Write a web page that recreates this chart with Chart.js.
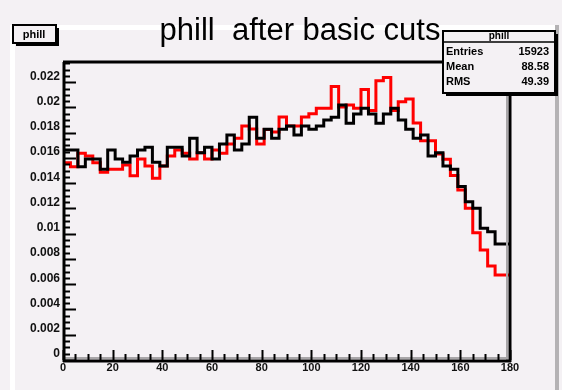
<!DOCTYPE html>
<html>
<head>
<meta charset="utf-8">
<script src="https://cdn.jsdelivr.net/npm/chart.js@4.4.1/dist/chart.umd.min.js"></script>
<style>
    html, body { margin: 0; padding: 0; background: #f4f1f4; }
    #wrap { width: 562px; height: 390px; }
</style>
</head>
<body>
<div id="wrap"><canvas id="chart" width="562" height="390"></canvas></div>
<script>
// phill histogram, 60 bins from 0 to 180
var xMin = 0;
var xMax = 180;
var nBins = 60;

var blackCounts = [
    0.01663, 0.01663, 0.01531, 0.01592, 0.01592, 0.01511, 0.01663, 0.01592, 0.01566, 0.01616,
    0.01663, 0.01685, 0.01566, 0.01537, 0.01685, 0.01685, 0.01616, 0.01756, 0.01642, 0.01685,
    0.01592, 0.01711, 0.01782, 0.01663, 0.01711, 0.01922, 0.01756, 0.01827, 0.01756, 0.01827,
    0.01853, 0.01782, 0.01853, 0.01827, 0.01853, 0.01901, 0.01922, 0.02020, 0.01875, 0.01949,
    0.01994, 0.01949, 0.01875, 0.01949, 0.01994, 0.01901, 0.01827, 0.01756, 0.01782, 0.01616,
    0.01642, 0.01537, 0.01511, 0.01374, 0.01254, 0.01202, 0.01043, 0.01016, 0.00919, 0.00919
];

var redCounts = [
    0.01563, 0.01531, 0.01637, 0.01616, 0.01563, 0.01487, 0.01511, 0.01511, 0.01545, 0.01460,
    0.01592, 0.01537, 0.01439, 0.01537, 0.01616, 0.01663, 0.01637, 0.01592, 0.01642, 0.01592,
    0.01663, 0.01637, 0.01711, 0.01756, 0.01853, 0.01830, 0.01711, 0.01826, 0.01806, 0.01925,
    0.01853, 0.01853, 0.01925, 0.01951, 0.01994, 0.01994, 0.02165, 0.02004, 0.02020, 0.01994,
    0.02143, 0.01975, 0.02212, 0.02238, 0.01975, 0.02046, 0.02067, 0.01877, 0.01737, 0.01737,
    0.01632, 0.01590, 0.01461, 0.01347, 0.01202, 0.01008, 0.00871, 0.00745, 0.00673, 0.00673
];

var yMax = 0.0236;
var yTickValues = [0, 0.002, 0.004, 0.006, 0.008, 0.01, 0.012, 0.014, 0.016, 0.018, 0.02, 0.022];
var yTickLabels = ['0', '0.002', '0.004', '0.006', '0.008', '0.01', '0.012', '0.014', '0.016', '0.018', '0.02', '0.022'];
var xTickValues = [0, 20, 40, 60, 80, 100, 120, 140, 160, 180];
var xTickLabels = ['0', '20', '40', '60', '80', '100', '120', '140', '160', '180'];

var histTitle = 'phill  after basic cuts';
var statsName = 'phill';
var statsRows = [['Entries', '15923'], ['Mean', '88.58'], ['RMS', '49.39']];

var BG = '#f4f1f4';

function histPoints(counts) {
    var w = (xMax - xMin) / nBins;
    var pts = counts.map(function(v, i) { return { x: xMin + i * w, y: v }; });
    pts.push({ x: xMax, y: counts[counts.length - 1] });
    return pts;
}

function line(ctx, x1, y1, x2, y2, color, width) {
    ctx.strokeStyle = color;
    ctx.lineWidth = width;
    ctx.beginPath();
    ctx.moveTo(x1, y1);
    ctx.lineTo(x2, y2);
    ctx.stroke();
}

function shadowBox(ctx, x, y, w, h) {
    ctx.fillStyle = '#000';
    ctx.fillRect(x + 3, y + 3, w, h);
    ctx.fillStyle = BG;
    ctx.fillRect(x, y, w, h);
    ctx.strokeStyle = '#000';
    ctx.lineWidth = 2;
    ctx.strokeRect(x, y, w, h);
}

var rootStyle = {
    id: 'rootStyle',
    beforeDraw: function(chart) {
        var ctx = chart.ctx;
        ctx.save();
        ctx.fillStyle = BG;
        ctx.fillRect(0, 0, chart.width, chart.height);
        // pad border highlight / shadow
        ctx.fillStyle = '#ffffff';
        ctx.fillRect(10, 25, 5, 365);
        ctx.fillRect(10, 25, 545, 5);
        ctx.fillStyle = '#b4b2b4';
        ctx.fillRect(555, 25, 4, 365);

        // title
        ctx.fillStyle = '#000';
        ctx.font = '31px "Liberation Sans", Arial, sans-serif';
        ctx.textAlign = 'center';
        ctx.textBaseline = 'alphabetic';
        ctx.fillText(histTitle, 300, 40);

        // name box at top left
        shadowBox(ctx, 13, 25, 43, 18);
        ctx.fillStyle = '#000';
        ctx.font = 'bold 11px "Liberation Sans", Arial, sans-serif';
        ctx.fillText(statsName, 34, 38);
        ctx.restore();
    },
    afterDatasetsDraw: function(chart) {
        var ctx = chart.ctx;
        var a = chart.chartArea;
        var xs = chart.scales.x;
        var ys = chart.scales.y;
        var k, px, py, major;
        ctx.save();

        // frame
        line(ctx, a.left, a.top, a.right + 1, a.top, '#000', 3);
        line(ctx, a.right - 3, a.top, a.right - 3, a.bottom, '#a8a6a8', 2);
        line(ctx, a.right, a.top, a.right, a.bottom + 2, '#000', 3);
        line(ctx, a.left, a.bottom - 2, a.right - 3, a.bottom - 2, '#a8a6a8', 2);
        line(ctx, a.left, a.bottom + 1, a.right + 1, a.bottom + 1, '#000', 3);
        line(ctx, a.left + 1, a.top, a.left + 1, a.bottom + 2, '#000', 3);

        // y ticks, 4 subdivisions per 0.002
        for (k = 0; k * 0.0005 <= yMax; k++) {
            py = Math.round(ys.getPixelForValue(k * 0.0005)) + 0.5;
            major = (k % 4 === 0);
            line(ctx, a.left, py, a.left + (major ? 13 : 7), py, '#000', 2);
        }
        // x ticks, 4 subdivisions per 20
        for (k = 0; k * 5 <= xMax; k++) {
            px = Math.round(xs.getPixelForValue(k * 5)) + 0.5;
            major = (k % 4 === 0);
            line(ctx, px, a.bottom, px, a.bottom - (major ? 10 : 6), '#000', 2);
        }

        ctx.fillStyle = '#111';
        ctx.font = 'bold 12px "Liberation Sans", Arial, sans-serif';
        ctx.textAlign = 'right';
        ctx.textBaseline = 'middle';
        yTickValues.forEach(function(v, i) {
            ctx.fillText(yTickLabels[i], a.left - 3, ys.getPixelForValue(v) - 6);
        });
        ctx.font = 'bold 11px "Liberation Sans", Arial, sans-serif';
        ctx.textAlign = 'center';
        ctx.textBaseline = 'top';
        xTickValues.forEach(function(v, i) {
            ctx.fillText(xTickLabels[i], xs.getPixelForValue(v), a.bottom + 2);
        });

        // stats box
        var bx = 443, by = 31, bw = 112, bh = 62;
        shadowBox(ctx, bx, by, bw, bh);
        line(ctx, bx, by + 11, bx + bw, by + 11, '#000', 1.5);
        ctx.fillStyle = '#000';
        ctx.font = 'bold 10px "Liberation Sans", Arial, sans-serif';
        ctx.textAlign = 'center';
        ctx.textBaseline = 'middle';
        ctx.fillText(statsName, bx + bw / 2, by + 5.5);
        ctx.font = 'bold 11px "Liberation Sans", Arial, sans-serif';
        statsRows.forEach(function(r, i) {
            var ry = by + 21 + i * 15;
            ctx.textAlign = 'left';
            ctx.fillText(r[0], bx + 3, ry);
            ctx.textAlign = 'right';
            ctx.fillText(r[1], bx + bw - 6, ry);
        });
        ctx.restore();
    }
};

new Chart(document.getElementById('chart'), {
    type: 'line',
    data: {
        datasets: [{
            label: 'black',
            data: histPoints(blackCounts),
            borderColor: '#000000',
            borderWidth: 3,
            stepped: 'before',
            pointRadius: 0,
            fill: false,
            order: 0
        }, {
            label: 'red',
            data: histPoints(redCounts),
            borderColor: '#ff0000',
            borderWidth: 3,
            stepped: 'before',
            pointRadius: 0,
            fill: false,
            order: 1
        }]
    },
    options: {
        responsive: false,
        animation: false,
        devicePixelRatio: 1,
        layout: { padding: { left: 63, right: 52, top: 62, bottom: 30 } },
        plugins: {
            legend: { display: false },
            tooltip: { enabled: false },
            title: { display: false }
        },
        scales: {
            x: { type: 'linear', min: xMin, max: xMax, display: false },
            y: { type: 'linear', min: 0, max: yMax, display: false }
        }
    },
    plugins: [rootStyle]
});
</script>
</body>
</html>
